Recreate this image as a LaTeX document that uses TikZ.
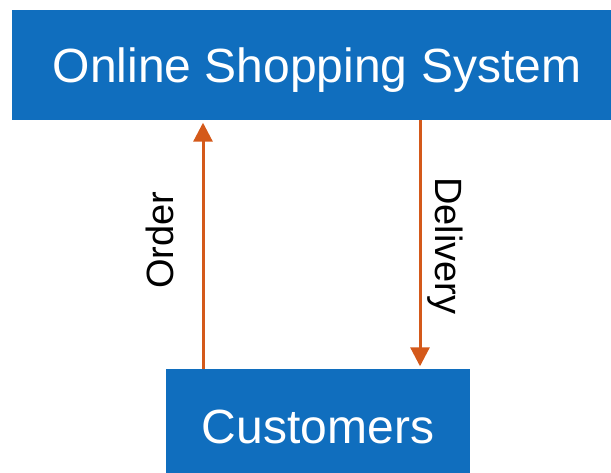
\documentclass[tikz,border=0pt]{standalone}
\usepackage{fontspec}
\setmainfont{Liberation Sans}
\usepackage{xcolor}
\usetikzlibrary{arrows.meta}
\definecolor{boxblue}{HTML}{106EBE}
\definecolor{flowred}{HTML}{D4591A}

\begin{document}
\begin{tikzpicture}[x = 1pt, y = -1pt,
    box/.style = {fill=boxblue, text=white, inner sep=0pt, text height=35pt, text depth=0pt,
                  font=\fontsize{48}{48}\selectfont},
    flow/.style = {draw=flowred, line width=3pt, -{Triangle[width=19pt,length=19pt]}, shorten >=2.5pt},
    flowtext/.style = {inner sep=0pt, font=\fontsize{38}{38}\selectfont}]
  \clip (0,0) rectangle (611,472);
  %%% boxes %%%
  \node[box, minimum width=610pt, minimum height=110pt] (sys) at (317,65) {Online Shopping System};
  \node[box, minimum width=304pt, minimum height=114pt] (cust) at (318,426) {Customers};
  %%% flows %%%
  \coordinate (orderx) at (203,0);
  \coordinate (deliveryx) at (420,0);
  % order goes up
  \draw[flow] (cust.north -| orderx) -- (sys.south -| orderx);
  \node[flowtext, rotate=90] (order) at (160,240) {Order};
  % delivery comes down
  \draw[flow] (sys.south -| deliveryx) -- (cust.north -| deliveryx);
  \node[flowtext, rotate=-90] (delivery) at (445,246) {Delivery};
\end{tikzpicture}
\end{document}
